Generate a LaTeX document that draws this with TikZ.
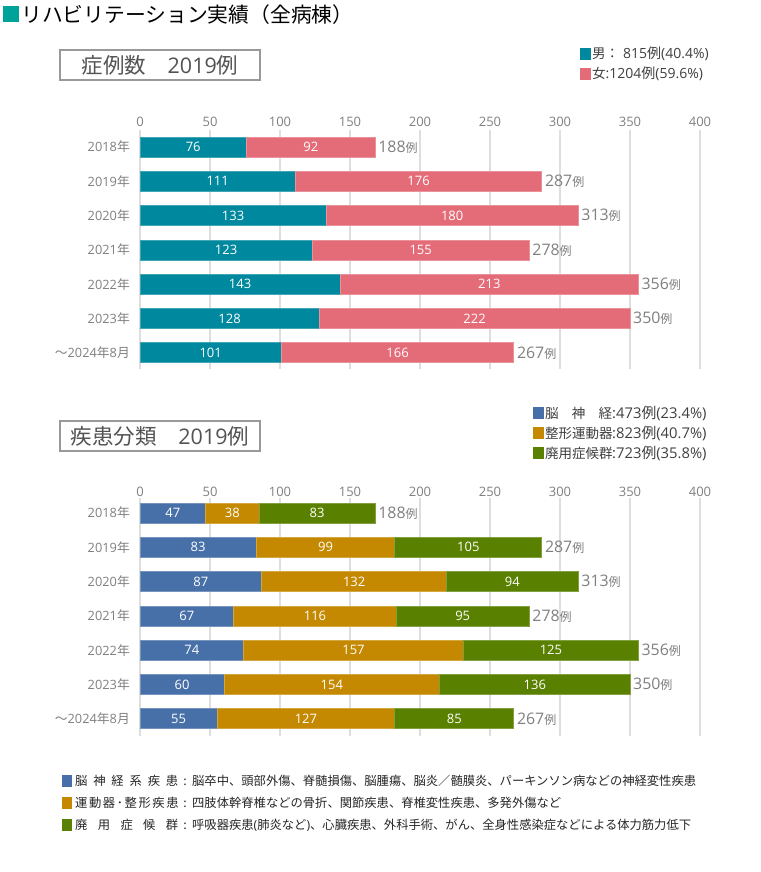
\documentclass[tikz,border=0pt]{standalone}
\usepackage{fontspec}
\setmainfont{Open Sans}
\newfontfamily\jp{Noto Sans CJK JP}
\definecolor{titlesq}{HTML}{00A39A}
\definecolor{male}{HTML}{00889E}
\definecolor{female}{HTML}{E46C78}
\definecolor{brain}{HTML}{4870A8}
\definecolor{ortho}{HTML}{C48900}
\definecolor{disuse}{HTML}{5A8000}
\definecolor{gridc}{HTML}{DEDEDE}
\definecolor{lbl}{HTML}{808080}
\definecolor{dark}{HTML}{404040}
\newcommand{\fs}[1]{\fontsize{#1}{#1}\selectfont}
\newcommand{\Nen}{{\jp 年}}
\newcommand{\Tsuki}{{\jp 月}}
\newcommand{\Kara}{{\jp ～}}
\newcommand{\Rei}{{\jp 例}}
\newcommand{\ls}{\hspace{1.6pt}}
\tikzset{
  gridline/.style={gridc, line width=1.5pt},
  barseg/.style={line width=0.7pt},
  inlbl/.style={white, font=\fs{13}, inner sep=0pt},
  rowlbl/.style={lbl, font=\fs{12.8}, anchor=east, inner sep=0pt},
  axlbl/.style={lbl, font=\fs{13}, inner sep=0pt},
  totlbl/.style={lbl, anchor=west, inner sep=0pt},
  framebox/.style={draw=lbl!80, line width=1.3pt, minimum width=200pt, minimum height=30pt, text=dark!90, font=\fs{21.5}, inner sep=0pt},
  legtext/.style={dark, font=\fs{13.5}, anchor=west, inner sep=0pt},
  botext/.style={black!85, font=\fs{12.3}\jp, anchor=west, inner sep=0pt},
}
\begin{document}
\begin{tikzpicture}[x=1pt,y=-1pt]
\useasboundingbox (0,0) rectangle (760,872);
\fill[white] (0,0) rectangle (760,872);
% title
\fill[titlesq] (3,6) rectangle (19,22);
\node[anchor=west, inner sep=0pt, font=\fs{20.8}\jp] (title) at (21,14.5) {リハビリテーション実績（全病棟）};
% ---------------- chart 1 ----------------
\node[framebox] (box1) at (160,65) {{\jp 症例数　}2019\Rei};
\fill[male] (580,48) rectangle (591,60);
\node[legtext] (leg1a) at (592,54) {{\jp 男：}\hspace{4pt}{\fs{14}815\Rei(40.4\%)}};
\fill[female] (580,68) rectangle (591,80);
\node[legtext] (leg1b) at (592,74) {{\jp 女}{\fs{14}:1204\Rei(59.6\%)}};
\foreach \v [count=\k] in {0,50,...,400} {
  \draw[gridline] ({140+\v*1.4},130) -- ({140+\v*1.4},369);
  \node[axlbl] (ax1-\k) at ({140+\v*1.4},122) {\v};
}
\foreach \lab/\a/\b/\t [count=\i] in {2018\Nen/76/92/188,2019\Nen/111/176/287,2020\Nen/133/180/313,2021\Nen/123/155/278,2022\Nen/143/213/356,2023\Nen/128/222/350,\Kara 2024\Nen 8\Tsuki/101/166/267} {
  \pgfmathsetmacro\yc{147+(\i-1)*34.3}
  \pgfmathsetmacro\xa{140+\a*1.4}
  \pgfmathsetmacro\xb{\xa+\b*1.4}
  \filldraw[barseg, fill=male, draw=male!75!white] (140,\yc-10) rectangle (\xa,\yc+10);
  \filldraw[barseg, fill=female, draw=female!75!white] (\xa,\yc-10) rectangle (\xb,\yc+10);
  \node[inlbl] (m\i) at ({(140+\xa)/2},\yc) {\a};
  \node[inlbl] (f\i) at ({(\xa+\xb)/2},\yc) {\b};
  \node[rowlbl] (r\i) at (130,\yc) {\lab};
  \node[totlbl] (t\i) at (\xb+3,\yc) {\fs{15.9}\t\fs{12}\Rei};
}
% ---------------- chart 2 ----------------
\node[framebox] (box2) at (160,436) {{\jp 疾患分類　}2019\Rei};
\fill[brain] (533,407) rectangle (544,419);
\node[legtext] (leg2a) at (545,413) {\makebox[67pt][l]{\jp 脳\hfill 神\hfill 経}{\fs{14.8}:473\Rei(23.4\%)}};
\fill[ortho] (533,427) rectangle (544,439);
\node[legtext] (leg2b) at (545,433) {\makebox[67pt][l]{\jp 整形運動器}{\fs{14.8}:823\Rei(40.7\%)}};
\fill[disuse] (533,447) rectangle (544,459);
\node[legtext] (leg2c) at (545,453) {\makebox[67pt][l]{\jp 廃用症候群}{\fs{14.8}:723\Rei(35.8\%)}};
\foreach \v [count=\k] in {0,50,...,400} {
  \draw[gridline] ({140+\v*1.4},498) -- ({140+\v*1.4},736);
  \node[axlbl] (ax2-\k) at ({140+\v*1.4},492) {\v};
}
\foreach \lab/\a/\b/\c/\t [count=\i] in {2018\Nen/47/38/83/188,2019\Nen/83/99/105/287,2020\Nen/87/132/94/313,2021\Nen/67/116/95/278,2022\Nen/74/157/125/356,2023\Nen/60/154/136/350,\Kara 2024\Nen 8\Tsuki/55/127/85/267} {
  \pgfmathsetmacro\yc{513+(\i-1)*34.3}
  \pgfmathsetmacro\xa{140+\a*1.4}
  \pgfmathsetmacro\xb{\xa+\b*1.4}
  \pgfmathsetmacro\xc{\xb+\c*1.4}
  \filldraw[barseg, fill=brain, draw=brain!75!white] (140,\yc-10) rectangle (\xa,\yc+10);
  \filldraw[barseg, fill=ortho, draw=ortho!75!white] (\xa,\yc-10) rectangle (\xb,\yc+10);
  \filldraw[barseg, fill=disuse, draw=disuse!75!white] (\xb,\yc-10) rectangle (\xc,\yc+10);
  \node[inlbl] (b\i) at ({(140+\xa)/2},\yc) {\a};
  \node[inlbl] (o\i) at ({(\xa+\xb)/2},\yc) {\b};
  \node[inlbl] (d\i) at ({(\xb+\xc)/2},\yc) {\c};
  \node[rowlbl] (rr\i) at (130,\yc) {\lab};
  \node[totlbl] (tt\i) at (\xc+3,\yc) {\fs{15.9}\t\fs{12}\Rei};
}
% ---------------- bottom legend ----------------
\fill[brain] (62,775) rectangle (72,787);
\node[botext] (bl1) at (75,781) {\makebox[103pt][l]{脳\hfill 神\hfill 経\hfill 系\hfill 疾\hfill 患}\makebox[14pt][c]{:}脳卒中、頭部外傷、脊髄損傷、脳腫瘍、脳炎／髄膜炎、パーキンソン病などの神経変性疾患};
\fill[ortho] (62,797) rectangle (72,809);
\node[botext] (bl2) at (75,803) {\makebox[103pt][l]{運\ls 動\ls 器\ls ･\ls 整\ls 形\ls 疾\ls 患}\makebox[14pt][c]{:}四肢体幹脊椎などの骨折、関節疾患、脊椎変性疾患、多発外傷など};
\fill[disuse] (62,819) rectangle (72,831);
\node[botext] (bl3) at (75,825) {\makebox[103pt][l]{廃\hfill 用\hfill 症\hfill 候\hfill 群}\makebox[14pt][c]{:}呼吸器疾患{\rmfamily (}肺炎など{\rmfamily )}、心臓疾患、外科手術、がん、全身性感染症などによる体力筋力低下};
\end{tikzpicture}
\end{document}
